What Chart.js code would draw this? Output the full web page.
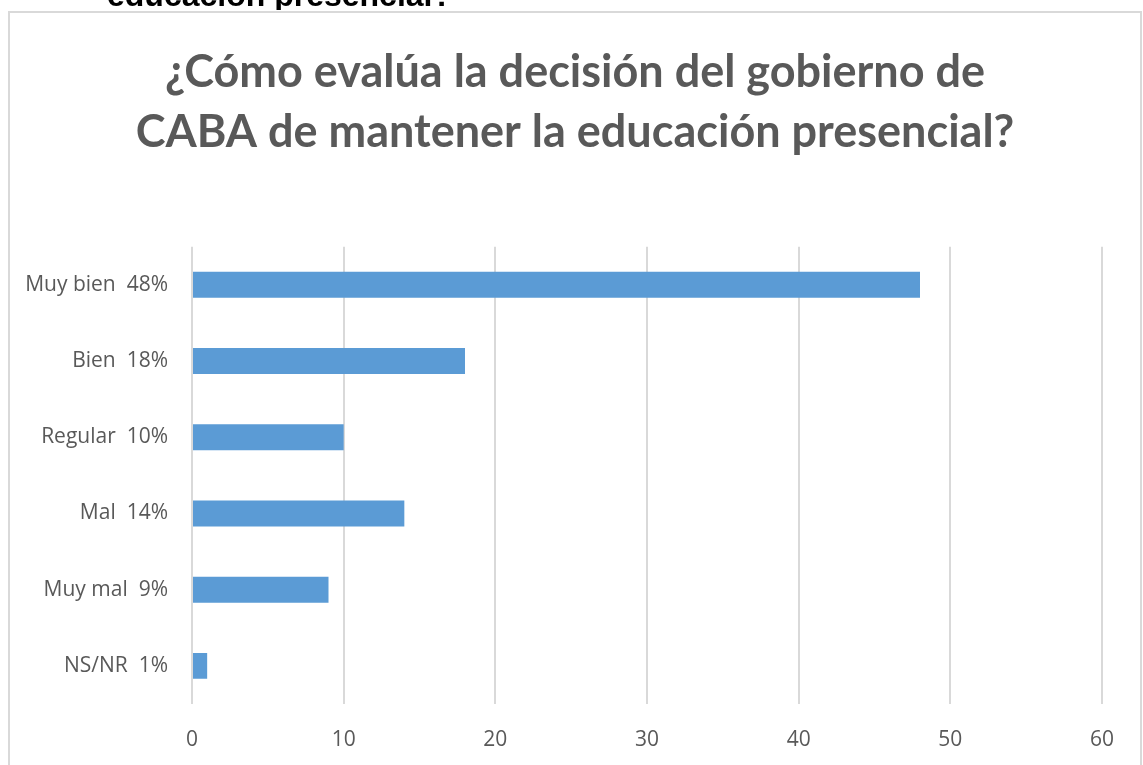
<!DOCTYPE html>
<html lang="es">
<head>
    <meta charset="UTF-8">
    <title>Decisión del gobierno de CABA</title>
    <script src="https://cdn.jsdelivr.net/npm/chart.js"></script>
    <style>
        body {
            margin: 0;
            overflow: hidden;
            background: #fff;
        }
        canvas {
            display: block;
        }
    </style>
</head>
<body>
    <canvas id="grafico" width="1143" height="765"></canvas>

    <script>
        const categorias = ['Muy bien  48%', 'Bien  18%', 'Regular  10%', 'Mal  14%', 'Muy mal  9%', 'NS/NR  1%'];
        const valores = [48, 18, 10, 14, 9, 1];
        const titulo = ['¿Cómo evalúa la decisión del gobierno de', 'CABA de mantener la educación presencial?'];
        const textoCortado = 'educación presencial?';

        // marco del gráfico y la línea de texto cortada arriba
        const marco = {
            id: 'marco',
            afterLayout(chart) {
                // centrar el título sobre el marco completo
                if (chart.titleBlock) {
                    chart.titleBlock.left = 8;
                    chart.titleBlock.right = 1142;
                    chart.titleBlock.width = 1134;
                }
            },
            beforeDraw(chart) {
                const c = chart.ctx;
                c.save();
                c.fillStyle = '#fff';
                c.fillRect(0, 0, chart.width, chart.height);
                c.fillStyle = '#000';
                c.font = 'bold 32px "Liberation Sans", Arial, sans-serif';
                c.textBaseline = 'alphabetic';
                c.fillText(textoCortado, 107, 6);
                // tapa la parte de abajo del texto cortado
                c.fillStyle = '#fff';
                c.fillRect(0, 10, chart.width, 20);
                c.strokeStyle = '#d9d9d9';
                c.lineWidth = 2;
                c.strokeRect(9, 12, 1132, 800);
                c.restore();
            },
        };

        const ctx = document.getElementById('grafico').getContext('2d');

        new Chart(ctx, {
            type: 'bar',
            data: {
                labels: categorias,
                datasets: [{
                    data: valores,
                    backgroundColor: '#5b9bd5',
                    barPercentage: 0.34,
                    categoryPercentage: 1,
                }],
            },
            plugins: [marco],
            options: {
                indexAxis: 'y',
                responsive: false,
                animation: false,
                layout: {
                    padding: { left: 0, right: 41, top: 13, bottom: 0 },
                },
                plugins: {
                    legend: { display: false },
                    tooltip: { enabled: false },
                    title: {
                        display: true,
                        text: titulo,
                        color: '#595959',
                        font: { family: 'Lato', size: 45, weight: 'bold', lineHeight: 1.33 },
                        padding: { top: 30, bottom: 84 },
                    },
                },
                scales: {
                    x: {
                        min: 0,
                        max: 60,
                        ticks: {
                            stepSize: 10,
                            color: '#595959',
                            font: { family: 'Open Sans', size: 21 },
                            padding: 23,
                        },
                        grid: {
                            color: '#d9d9d9',
                            lineWidth: 2,
                            drawTicks: false,
                        },
                        border: { display: false },
                        afterFit: (axis) => { axis.height = 61; },
                    },
                    y: {
                        ticks: {
                            color: '#595959',
                            font: { family: 'Open Sans', size: 21 },
                            padding: 24,
                        },
                        grid: { display: false, drawTicks: false },
                        border: { display: false },
                        afterFit: (axis) => { axis.width = 192; },
                    },
                },
            },
        });
    </script>
</body>
</html>
